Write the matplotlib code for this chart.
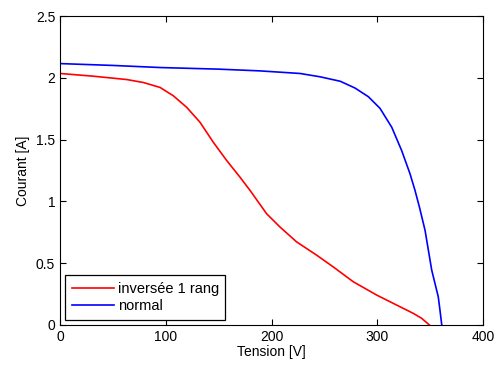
import matplotlib.pyplot as plt
import numpy as np

plt.rcParams['font.family'] = ['Liberation Sans', 'DejaVu Sans']

# normal string (I-V curve)
v_normal = [0, 50, 95, 150, 189, 227, 246, 265, 279, 291.6, 302.6, 313.7, 323.1, 331, 335.7,
            340, 345.2, 351.5, 357.7, 359.3, 361]
i_normal = [2.115, 2.10, 2.083, 2.07, 2.056, 2.035, 2.008, 1.972, 1.917, 1.847, 1.753, 1.60, 1.411, 1.223, 1.089,
            0.95, 0.766, 0.444, 0.228, 0.121, 0.0]

# one row reversed
v_inv = [0, 31.5, 63, 78.8, 94.6, 107.1, 119.8, 132.4, 145, 157.6, 170.2, 179.7, 195.4, 208, 223.8,
         242.7, 258.4, 277.3, 299.5, 318.4, 334.1, 342, 349.3]
i_inv = [2.035, 2.013, 1.986, 1.962, 1.922, 1.855, 1.761, 1.64, 1.478, 1.331, 1.196, 1.089, 0.90, 0.793, 0.672,
         0.565, 0.47, 0.35, 0.242, 0.161, 0.094, 0.054, 0.0]

fig = plt.figure(figsize=(4.99, 3.65), dpi=100)
ax = fig.add_axes([60 / 499, 40 / 365, 423 / 499, 309 / 365])

ax.plot(v_inv, i_inv, color='red', lw=1.2, label='inversée 1 rang')
ax.plot(v_normal, i_normal, color='blue', lw=1.2, label='normal')

ax.set_xlim(0, 400)
ax.set_ylim(0, 2.5)
ax.set_xticks([0, 100, 200, 300, 400])
ax.set_yticks([0, 0.5, 1, 1.5, 2, 2.5])
ax.set_yticklabels(['0', '0.5', '1', '1.5', '2', '2.5'])
ax.tick_params(direction='in', top=True, right=True, labelsize=10, length=4, width=0.8)
for s in ax.spines.values():
    s.set_linewidth(0.8)
ax.set_xlabel('Tension [V]', fontsize=10, labelpad=1)
ax.set_ylabel('Courant [A]', fontsize=10, labelpad=4)

leg = ax.legend(loc='lower left', fontsize=10.5, fancybox=False, edgecolor='black',
                framealpha=1, borderaxespad=0.35, handlelength=2.9, handletextpad=0.25,
                borderpad=0.45, labelspacing=0.25)
leg.get_frame().set_linewidth(0.9)

fig.savefig('out.png', dpi=100)
